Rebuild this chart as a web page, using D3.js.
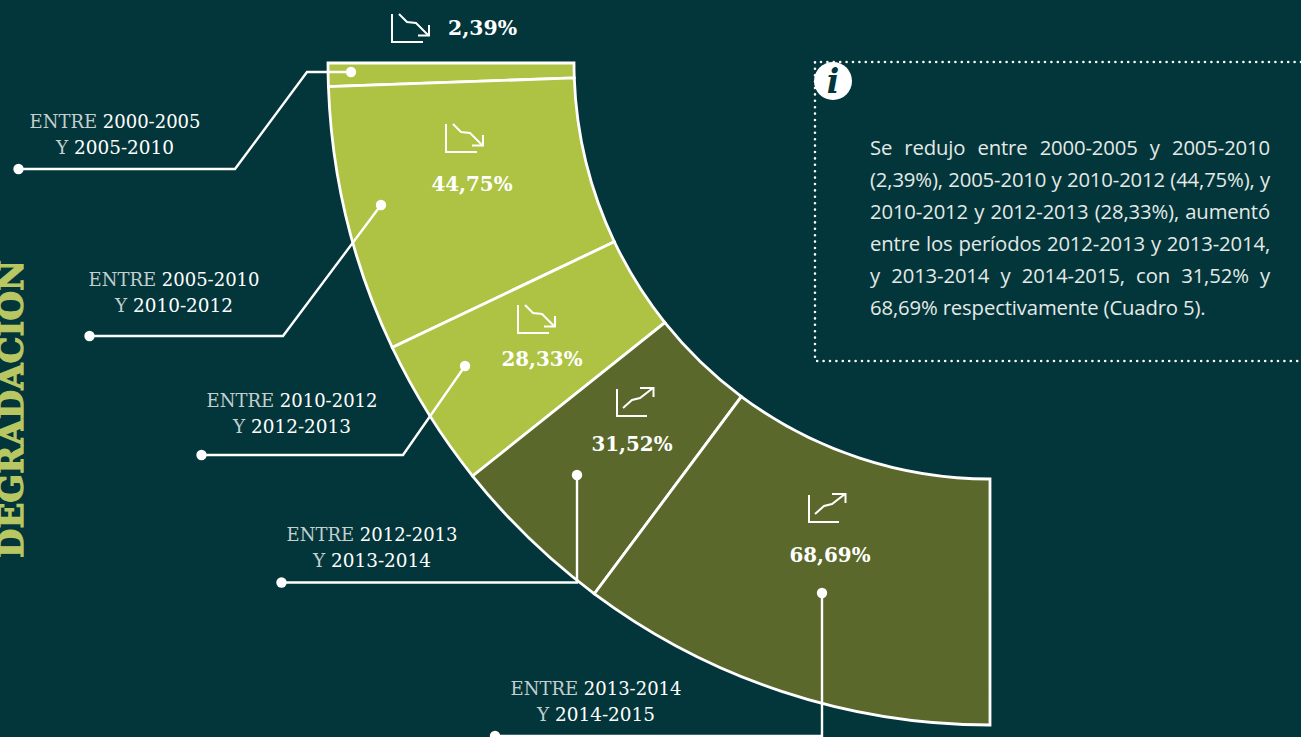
<!DOCTYPE html>
<html lang="es">
<head>
<meta charset="utf-8">
<script src="https://cdn.jsdelivr.net/npm/d3@7"></script>
<style>
    html, body { margin: 0; padding: 0; background: #03363a; overflow: hidden; }
    #chart { position: absolute; left: 0; top: 0; }
    #note { position: absolute; left: 870px; top: 131px; width: 400px;
            font: 20.3px/32px "Open Sans", sans-serif; letter-spacing: -0.14px; color: #e3eae8; }
    #note div { text-align: justify; text-align-last: justify; white-space: nowrap; }
    #note div:last-child { text-align-last: left; }
    .pct { font: bold 21px "DejaVu Serif", serif; fill: #fff; text-anchor: middle; }
    .period { font: 19px "DejaVu Serif", serif; fill: #fff; text-anchor: middle; }
    .period .word { fill: #c3d0ce; }
</style>
</head>
<body>
<div id="chart"></div>
<div id="note"></div>
<script>
// values printed on the chart
const pctLabels = ["2,39%", "44,75%", "28,33%", "31,52%", "68,69%"];
// how much of the quarter ring each band really takes in the picture (not quite proportional)
const bandShare = [2.05, 23.4, 13.15, 14.7, 36.7];
const direction = ["down", "down", "down", "up", "up"];
const fromPeriod = ["2000-2005", "2005-2010", "2010-2012", "2012-2013", "2013-2014"];
const toPeriod = ["2005-2010", "2010-2012", "2012-2013", "2013-2014", "2014-2015"];
const noteLines = [
    "Se redujo entre 2000-2005 y 2005-2010",
    "(2,39%), 2005-2010 y 2010-2012 (44,75%), y",
    "2010-2012 y 2012-2013 (28,33%), aumentó",
    "entre los períodos 2012-2013 y 2013-2014,",
    "y 2013-2014 y 2014-2015, con 31,52% y",
    "68,69% respectivamente (Cuadro 5)."
];

const width = 1301, height = 737;
const bg = "#03363a";
const color = d3.scaleOrdinal(["down", "up"], ["#aec343", "#5a682b"]);

const svg = d3.select("#chart").append("svg")
    .attr("width", width)
    .attr("height", height);

// Title, top of the letters runs off the page
svg.append("text")
    .attr("transform", "translate(23,558)rotate(-90)")
    .style("font", "bold 34px 'DejaVu Serif', serif")
    .attr("textLength", 298)
    .attr("lengthAdjust", "spacingAndGlyphs")
    .attr("fill", "#b9c763")
    .attr("stroke", "#b9c763")
    .attr("stroke-width", 1.1)
    .text("DEGRADACIÓN");

// Ring
const pie = d3.pie().sort(null).startAngle(Math.PI * 1.5).endAngle(Math.PI);
const arc = d3.arc().innerRadius(416).outerRadius(662);

svg.append("g")
    .attr("transform", "translate(990,63)")
    .selectAll("path")
    .data(pie(bandShare))
    .join("path")
    .attr("d", arc)
    .attr("fill", (d, i) => color(direction[i]))
    .attr("stroke", "#fff")
    .attr("stroke-width", 2.8)
    .attr("stroke-linejoin", "miter");

// Leaders
const leaders = [
    [[18.5, 169], [235, 169], [307, 72], [351, 72]],
    [[89.5, 336], [283, 336], [381, 205]],
    [[201.5, 455], [403, 455], [465, 366]],
    [[281.5, 582.5], [577, 582.5], [577, 475]],
    [[495, 736], [822, 736], [822, 593]]
];
const line = d3.line();
leaders.forEach(pts => {
    svg.append("path").attr("d", line(pts))
        .attr("fill", "none").attr("stroke", "#fff").attr("stroke-width", 2.4);
    [pts[0], pts[pts.length - 1]].forEach(p => {
        svg.append("circle").attr("cx", p[0]).attr("cy", p[1]).attr("r", 5.2).attr("fill", "#fff");
    });
});

// Period labels
const periodPos = [[115, 128], [174, 286], [292, 407], [372, 541], [596, 695]];
periodPos.forEach((p, i) => {
    const t = svg.append("text").attr("class", "period").attr("x", p[0]).attr("y", p[1])
        .attr("textLength", 171).attr("lengthAdjust", "spacingAndGlyphs");
    t.append("tspan").attr("class", "word").text("ENTRE ");
    t.append("tspan").text(fromPeriod[i]);
    const t2 = svg.append("text").attr("class", "period").attr("x", p[0]).attr("y", p[1] + 25.5)
        .attr("textLength", 118).attr("lengthAdjust", "spacingAndGlyphs");
    t2.append("tspan").attr("class", "word").text("Y ");
    t2.append("tspan").text(toPeriod[i]);
});

// Percent labels
const pctPos = [[482.5, 35], [472, 191], [542, 366], [632, 451], [830, 562]];
svg.selectAll("text.pct")
    .data(pctLabels)
    .join("text")
    .attr("class", "pct")
    .attr("x", (d, i) => pctPos[i][0])
    .attr("y", (d, i) => pctPos[i][1])
    .attr("textLength", d => d.length === 5 ? 69 : 81)
    .attr("lengthAdjust", "spacingAndGlyphs")
    .text(d => d);

// Trend icons
const iconPos = [[392, 14], [446, 124], [518, 305], [617, 389], [809, 495]];
const iconParts = {
    down: [
        [[0, 0], [0, 28], [31, 28]],
        [[7, 0], [15, 8], [24, 9], [36, 21]],
        [[26, 21.5], [37, 21.5], [37, 11]]
    ],
    up: [
        [[0, 0], [0, 27], [30, 27]],
        [[6, 19], [15, 11], [23, 9], [36, -1]],
        [[23, -1], [36.5, -1], [36.5, 8]]
    ]
};
iconPos.forEach((p, i) => {
    const g = svg.append("g").attr("transform", `translate(${p[0]},${p[1]})`);
    iconParts[direction[i]].forEach(part => {
        g.append("path").attr("d", line(part))
            .attr("fill", "none").attr("stroke", "#fff").attr("stroke-width", 2);
    });
});

// Note box
svg.append("path")
    .attr("d", line([[1301, 62], [815, 62], [815, 361], [1301, 361]]))
    .attr("fill", "none")
    .attr("stroke", "#fff")
    .attr("stroke-width", 2.6)
    .attr("stroke-linecap", "round")
    .attr("stroke-dasharray", "0 6.4");
svg.append("circle").attr("cx", 833).attr("cy", 81).attr("r", 19).attr("fill", "#fff");
svg.append("text")
    .attr("x", 833).attr("y", 93)
    .attr("text-anchor", "middle")
    .style("font", "italic bold 33px 'DejaVu Serif', serif")
    .attr("fill", bg)
    .text("i");

d3.select("#note").selectAll("div")
    .data(noteLines)
    .join("div")
    .text(d => d);
</script>
</body>
</html>
